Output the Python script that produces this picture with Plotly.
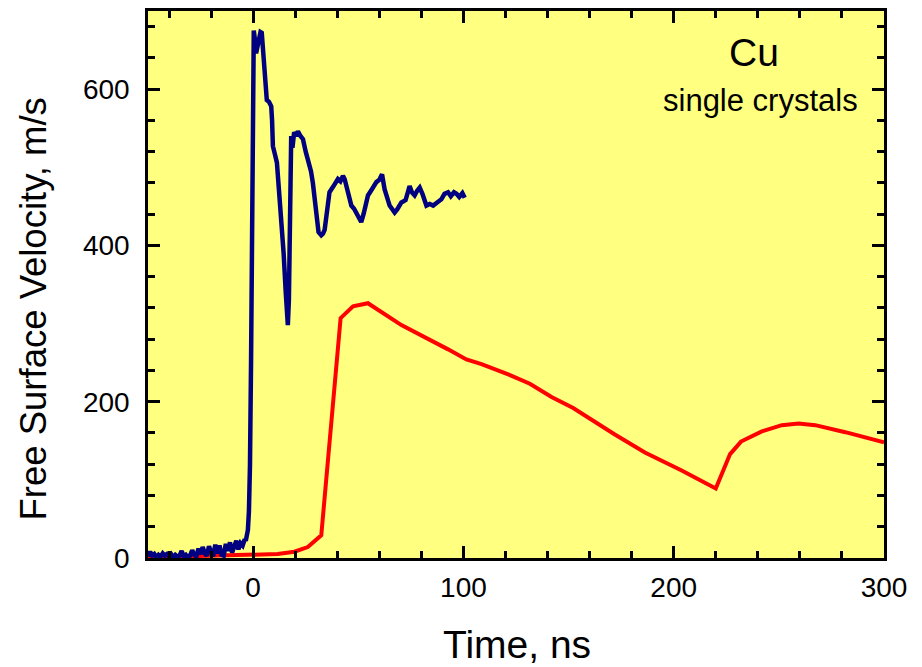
import plotly.graph_objects as go

# Blue trace (measured free surface velocity)
blue_t = [-50, -49, -48, -47, -46, -45, -44, -43, -42, -41, -40, -39, -38, -37, -36, -35,
          -34, -33, -32, -31, -30, -29, -28, -27, -26, -25, -24, -23, -22, -21, -20, -19,
          -18, -17, -16, -15, -14, -13, -12, -11, -10, -9, -8, -7, -6, -5, -4, -3.5, -3,
          -2.5, -2, -1.5, -1, -0.5, 0, 0.3, 1.0, 1.4, 2.5, 3.5, 4.1, 4.8, 5.4, 6.0, 6.5,
          7.5, 8.6, 9.0, 9.4, 10.5, 11.3, 12.3, 13.3, 14.5, 15.5, 16.2, 16.5, 17.0, 17.5,
          18.1, 18.7, 19.5, 20.5, 21.3, 22.5, 23.7, 25, 26.7, 27.5, 28.4, 29.5, 30.3, 31.1,
          32.4, 33.2, 34.0, 34.8, 35.5, 36.3, 38, 40.3, 41.5, 42.7, 43.5, 44.3, 45.5, 46.7,
          48, 49.5, 51.4, 52.5, 53.5, 54.6, 56.5, 58.6, 60, 61.3, 62.5, 63.5, 64.9, 66,
          67.3, 68.5, 70.5, 72.5, 74.4, 75.5, 76.8, 78, 79.2, 80.5, 82.4, 84, 85.6, 87.5,
          89.5, 91, 92.7, 94, 95.5, 96.7, 98, 99.5, 100.6]
blue_v = [2, 8, 3, 5, 1, 4, 2, 6, 3, 5, 2, 5, 1, 4, 2, 3,
          9, 2, 4, 1, 3, 10, 4, 2, 12, 5, 14, 6, 3, 15, 8, 2,
          17, 6, 16, 4, 3, 18, 9, 20, 7, 14, 22, 11, 19, 16, 24, 22, 28,
          36, 60, 120, 250, 450, 640, 675, 660, 646, 660, 673, 672, 645, 612, 600, 586,
          584, 578, 560, 527, 515, 506, 470, 438, 390, 340, 305, 298, 330, 450,
          540, 525, 545, 540, 546, 540, 536, 520, 506, 495, 480, 450, 425, 417,
          413, 415, 420, 434, 455, 468, 475, 485, 482, 489, 485, 476, 462, 451,
          447, 440, 430, 440, 455, 464, 472, 481, 484, 491, 472, 462, 451, 447,
          442, 446, 455, 458, 476, 468, 464, 470, 474, 466, 451, 453, 451, 455,
          459, 466, 468, 463, 468, 466, 462, 467, 461]

# Red trace (second record)
red_t = [-50, -30, -10, 0.5, 11.7, 19.6, 26, 32.4, 41.6, 47.5, 54.6, 70.5, 83.2, 92.7,
         101.4, 108.6, 121.3, 131.6, 141.9, 152.2, 172, 186.3, 203.8, 213.3, 220, 226.8,
         232, 241.9, 251.4, 259.4, 267.3, 281.6, 300]
red_v = [1, 2, 3, 4, 5, 8, 14, 29, 307, 322, 326, 298, 281, 267,
         254, 248, 235, 223, 206, 192, 158, 135, 112, 99, 89, 133,
         149, 162, 170, 172, 170, 161, 148]

x_ticks = [0, 100, 200, 300]
y_ticks = [0, 200, 400, 600]

FONT = "Liberation Sans, Arial, sans-serif"

fig = go.Figure()
fig.add_trace(go.Scatter(x=red_t, y=red_v, mode="lines",
                         line=dict(color="#FF0000", width=4), showlegend=False))
fig.add_trace(go.Scatter(x=blue_t, y=blue_v, mode="lines",
                         line=dict(color="#000080", width=4.5), showlegend=False))

axis_common = dict(showline=True, linecolor="black", linewidth=2.5, mirror="ticks",
                   ticks="inside", ticklen=12, tickwidth=2.5, tickcolor="black",
                   showgrid=False, zeroline=False,
                   tickfont=dict(family=FONT, size=28, color="black"))

fig.update_xaxes(range=[-50, 300], tickvals=x_ticks, ticklabelstandoff=3,
                 minor=dict(ticks="inside", dtick=20, tick0=0, ticklen=7, tickwidth=2.5,
                            tickcolor="black", showgrid=False),
                 **axis_common)
fig.update_yaxes(range=[0, 700], tickvals=y_ticks, ticklabelstandoff=10,
                 minor=dict(ticks="inside", dtick=40, tick0=0, ticklen=7, tickwidth=2.5,
                            tickcolor="black", showgrid=False),
                 **axis_common)

fig.add_annotation(text="Time, ns", x=0.501, y=-0.158, xref="paper", yref="paper",
                   xanchor="center", yanchor="middle", showarrow=False,
                   font=dict(family=FONT, size=39, color="black"))
fig.add_annotation(text="Free Surface Velocity, m/s", x=-0.155, y=0.456,
                   xref="paper", yref="paper", textangle=-90,
                   xanchor="center", yanchor="middle", showarrow=False,
                   font=dict(family=FONT, size=36.5, color="black"))
fig.add_annotation(text="Cu", x=0.823, y=0.925, xref="paper", yref="paper",
                   xanchor="center", yanchor="middle",
                   showarrow=False, font=dict(family=FONT, size=39, color="black"))
fig.add_annotation(text="single crystals", x=0.832, y=0.836, xref="paper", yref="paper",
                   xanchor="center", yanchor="middle",
                   showarrow=False, font=dict(family=FONT, size=31, color="black"))

fig.update_layout(width=922, height=667,
                  margin=dict(l=148, r=38, t=8, b=109),
                  plot_bgcolor="#FFFF80", paper_bgcolor="white")

fig.write_html("out.html")
